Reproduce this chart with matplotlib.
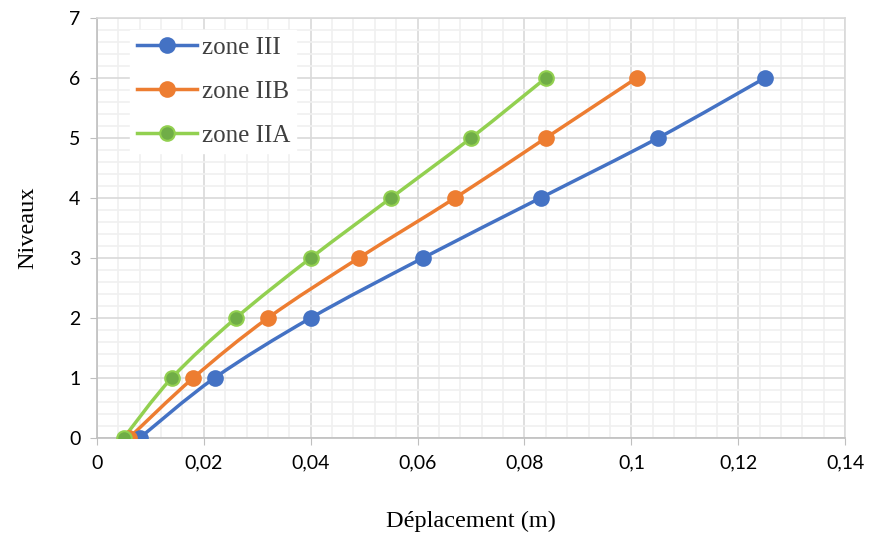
import numpy as np
import matplotlib.pyplot as plt
from matplotlib.path import Path
from matplotlib.patches import PathPatch
from matplotlib.lines import Line2D
from matplotlib.ticker import MultipleLocator, FuncFormatter

# niveaux et déplacements (m)
niveaux = [0, 1, 2, 3, 4, 5, 6]
zone_III = [0.008, 0.022, 0.040, 0.061, 0.083, 0.105, 0.125]
zone_IIB = [0.006, 0.018, 0.032, 0.049, 0.067, 0.084, 0.101]
zone_IIA = [0.005, 0.014, 0.026, 0.040, 0.055, 0.070, 0.084]

series = [
    ("zone III", zone_III, "#4472C4", "#4472C4"),
    ("zone IIB", zone_IIB, "#ED7D31", "#ED7D31"),
    ("zone IIA", zone_IIA, "#92D050", "#70AD47"),
]


def smooth_path(x, y, t=1/6):
    # courbe lissée type Excel (Bezier passant par les points)
    x = np.asarray(x, float)
    y = np.asarray(y, float)
    verts = [(x[0], y[0])]
    codes = [Path.MOVETO]
    n = len(x)
    for i in range(n - 1):
        i0 = max(i - 1, 0)
        i3 = min(i + 2, n - 1)
        c1 = (x[i] + (x[i + 1] - x[i0]) * t, y[i] + (y[i + 1] - y[i0]) * t)
        c2 = (x[i + 1] - (x[i3] - x[i]) * t, y[i + 1] - (y[i3] - y[i]) * t)
        verts += [c1, c2, (x[i + 1], y[i + 1])]
        codes += [Path.CURVE4] * 3
    return Path(verts, codes)


fig = plt.figure(figsize=(8.72, 5.42), dpi=100)
ax = fig.add_axes([0.1112, 0.1919, 0.858, 0.775])

handles = []
for name, vals, col, face in series:
    ax.add_patch(PathPatch(smooth_path(vals, niveaux), facecolor="none",
                           edgecolor=col, lw=2.5, zorder=3))
    ax.plot(vals, niveaux, linestyle="none", marker="o", markersize=10.5,
            markerfacecolor=face, markeredgecolor=col, markeredgewidth=1.5,
            zorder=4)
    handles.append(Line2D([], [], color=col, lw=2.5, marker="o",
                          markersize=10.5, markerfacecolor=face,
                          markeredgecolor=col, markeredgewidth=1.5,
                          label=name))

ax.set_xlim(0, 0.14)
ax.set_ylim(0, 7)
ax.xaxis.set_major_locator(MultipleLocator(0.02))
ax.xaxis.set_minor_locator(MultipleLocator(0.004))
ax.yaxis.set_major_locator(MultipleLocator(1))
ax.yaxis.set_minor_locator(MultipleLocator(0.2))
ax.xaxis.set_major_formatter(FuncFormatter(
    lambda v, p: "0" if abs(v) < 1e-9 else f"{v:.2f}".rstrip("0").replace(".", ",")))

ax.grid(which="major", color="#d9d9d9", lw=1.2, zorder=0)
ax.grid(which="minor", color="#f0f0f0", lw=1.2, zorder=0)
ax.set_axisbelow(True)
for s in ax.spines.values():
    s.set_color("#d9d9d9")
    s.set_linewidth(1.2)
ax.spines["left"].set_color("#bfbfbf")
ax.spines["bottom"].set_color("#bfbfbf")
ax.tick_params(which="major", length=5, color="#bfbfbf", labelsize=14,
               labelcolor="#000000", pad=7)
ax.tick_params(which="minor", length=0)
for lab in ax.get_xticklabels() + ax.get_yticklabels():
    lab.set_fontfamily("Lato")

ax.set_xlabel("Déplacement (m)", family="Liberation Serif", fontsize=17.5,
              labelpad=28)
ax.set_ylabel("Niveaux", family="Liberation Serif", fontsize=17.5,
              labelpad=22)

leg = ax.legend(handles=handles, loc="upper left",
                bbox_to_anchor=(0.028, 1.0), frameon=True, fancybox=False,
                framealpha=1, edgecolor="white", handlelength=2.4,
                handletextpad=0.2, labelspacing=0.85, borderpad=0.25,
                prop={"family": "Liberation Serif", "size": 18})
for t in leg.get_texts():
    t.set_color("#404040")

fig.savefig("out.png", dpi=100)
